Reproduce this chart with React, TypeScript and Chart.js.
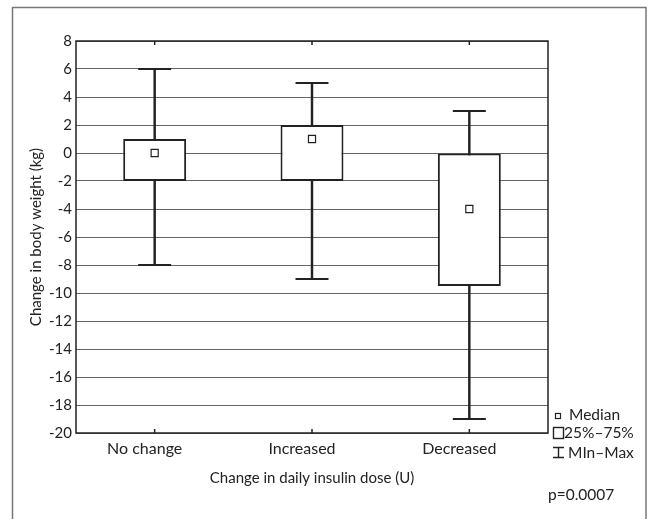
import React, { useEffect, useRef } from "react";
import { Chart, registerables } from "chart.js";

Chart.register(...registerables);

const categories = ["No change", "Increased", "Decreased"];
const minValues = [-8, -9, -19];
const q1Values = [-2, -2, -9.5];
const medianValues = [0, 1, -4];
const q3Values = [1, 2, 0];
const maxValues = [6, 5, 3];
const yMin = -20;
const yMax = 8;
const yStep = 2;

const xTitle = "Change in daily insulin dose (U)";
const yTitle = "Change in body weight (kg)";
const legendLabels = ["Median", "25%\u201375%", "MIn\u2013Max"];
const pValueText = "p=0.0007";

const FONT = "Lato, 'Noto Sans', sans-serif";
const INK = "#222";

const decorPlugin = {
  id: "decor",
  beforeDraw(chart: any) {
    const { ctx, width, height } = chart;
    ctx.save();
    ctx.fillStyle = "#fff";
    ctx.fillRect(0, 0, width, height);
    ctx.restore();
  },
  afterDraw(chart: any) {
    const { ctx, chartArea: a, scales } = chart;
    ctx.save();
    // outer frame
    ctx.strokeStyle = "#777";
    ctx.lineWidth = 1.5;
    ctx.beginPath();
    ctx.moveTo(12.5, 530);
    ctx.lineTo(12.5, 7.5);
    ctx.lineTo(646, 7.5);
    ctx.lineTo(646, 530);
    ctx.stroke();

    // plot border
    ctx.strokeStyle = INK;
    ctx.lineWidth = 1.5;
    ctx.strokeRect(a.left, a.top, a.right - a.left, a.bottom - a.top);

    // inward ticks at categories
    ctx.beginPath();
    categories.forEach((_, i) => {
      const x = scales.x.getPixelForValue(i);
      ctx.moveTo(x, a.top);
      ctx.lineTo(x, a.top + 4);
      ctx.moveTo(x, a.bottom);
      ctx.lineTo(x, a.bottom - 4);
    });
    ctx.stroke();

    // titles
    ctx.fillStyle = INK;
    ctx.font = `15px ${FONT}`;
    ctx.textAlign = "center";
    ctx.textBaseline = "middle";
    ctx.fillText(xTitle, (a.left + a.right) / 2, 478);
    ctx.save();
    ctx.translate(36, (a.top + a.bottom) / 2);
    ctx.rotate(-Math.PI / 2);
    ctx.fillText(yTitle, 0, 0);
    ctx.restore();

    // legend
    ctx.font = `15.5px ${FONT}`;
    ctx.textAlign = "left";
    ctx.lineWidth = 1.2;
    ctx.strokeRect(555.5, 413.5, 5, 5);
    ctx.fillText(legendLabels[0], 569, 415);
    ctx.lineWidth = 1.4;
    ctx.strokeRect(553.5, 427.5, 10, 11);
    ctx.fillText(legendLabels[1], 564, 433);
    ctx.beginPath();
    ctx.moveTo(558.5, 447);
    ctx.lineTo(558.5, 458);
    ctx.moveTo(553, 447.5);
    ctx.lineTo(564, 447.5);
    ctx.moveTo(553, 457.5);
    ctx.lineTo(564, 457.5);
    ctx.stroke();
    ctx.fillText(legendLabels[2], 568, 453);
    ctx.fillText(pValueText, 548, 495);
    ctx.restore();
  },
};

export default function App() {
  const ref = useRef<HTMLCanvasElement | null>(null);

  useEffect(() => {
    if (!ref.current) return;
    const chart = new Chart(ref.current, {
      type: "bar",
      data: {
        labels: categories,
        datasets: [
          {
            type: "bar",
            label: "whisker",
            data: minValues.map((v, i) => [v, maxValues[i]]),
            backgroundColor: INK,
            borderWidth: 0,
            barThickness: 1.8,
            grouped: false,
            order: 4,
          } as any,
          {
            type: "bar",
            label: "box",
            data: q1Values.map((v, i) => [v, q3Values[i]]),
            backgroundColor: "#fff",
            borderColor: INK,
            borderWidth: 2,
            borderSkipped: false,
            barPercentage: 0.4,
            categoryPercentage: 1,
            grouped: false,
            order: 3,
          } as any,
          {
            type: "line",
            label: "max",
            data: maxValues,
            showLine: false,
            pointStyle: "line",
            pointRadius: 16.5,
            pointBorderWidth: 2,
            pointBorderColor: INK,
            order: 2,
          } as any,
          {
            type: "line",
            label: "min",
            data: minValues,
            showLine: false,
            pointStyle: "line",
            pointRadius: 16.5,
            pointBorderWidth: 2,
            pointBorderColor: INK,
            order: 2,
          } as any,
          {
            type: "line",
            label: "median",
            data: medianValues,
            showLine: false,
            pointStyle: "rect",
            pointRadius: 5,
            pointBorderWidth: 1.2,
            pointBorderColor: INK,
            pointBackgroundColor: "#fff",
            order: 1,
          } as any,
        ],
      },
      options: {
        responsive: false,
        animation: false,
        events: [],
        layout: { padding: { top: 41, right: 102, bottom: 50, left: 0 } },
        plugins: {
          legend: { display: false },
          tooltip: { enabled: false },
        },
        scales: {
          x: {
            offset: true,
            grid: { display: false, drawTicks: false },
            border: { display: false },
            ticks: {
              color: INK,
              font: { family: FONT, size: 16 },
              padding: 6,
              labelOffset: -10,
              maxRotation: 0,
            },
            afterFit: (s: any) => {
              s.height = 36;
            },
          },
          y: {
            min: yMin,
            max: yMax,
            grid: { color: "#666", lineWidth: 1, drawTicks: false },
            border: { display: false },
            ticks: {
              stepSize: yStep,
              color: INK,
              font: { family: FONT, size: 15 },
              padding: 4,
            },
            afterFit: (s: any) => {
              s.width = 76;
            },
          },
        },
      },
      plugins: [decorPlugin],
    } as any);
    return () => chart.destroy();
  }, []);

  return (
    <div style={{ position: "absolute", left: 0, top: 0, width: 650, height: 519 }}>
      <canvas ref={ref} width={650} height={519} />
    </div>
  );
}
